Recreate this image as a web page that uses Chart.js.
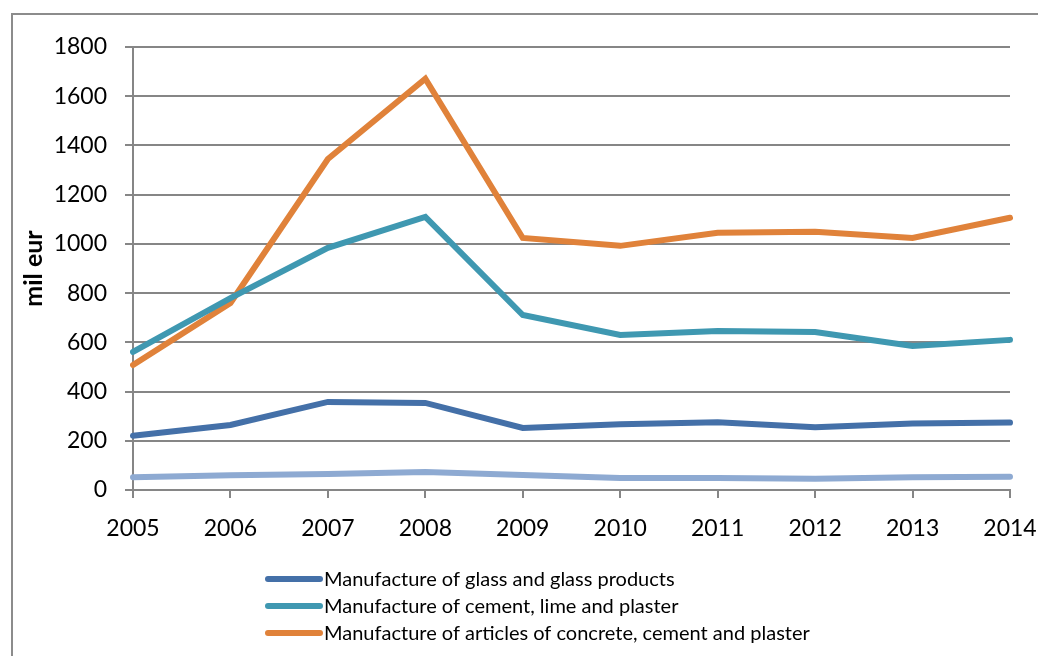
<!DOCTYPE html>
<html>
<head>
<meta charset="utf-8">
<title>Manufacturing output, 2005-2014</title>
<script src="https://cdn.jsdelivr.net/npm/chart.js@4.4.1/dist/chart.umd.min.js"></script>
<style>
  html, body { margin: 0; padding: 0; background: #ffffff; overflow: hidden; }
  #wrap { position: relative; width: 1038px; height: 656px; }
</style>
</head>
<body>
<div id="wrap"><canvas id="chart" width="1038" height="656"></canvas></div>
<script>
// Years on the category axis
const years = ['2005', '2006', '2007', '2008', '2009', '2010', '2011', '2012', '2013', '2014'];

// Values in mil eur
const glass = [220, 264, 358, 354, 252, 267, 275, 255, 270, 274];
const cement = [561, 780, 984, 1110, 711, 630, 646, 642, 585, 610];
const concrete = [508, 760, 1345, 1671, 1024, 992, 1045, 1049, 1024, 1106];
const otherMinerals = [52, 60, 65, 73, 61, 49, 49, 46, 52, 54];

const yTicks = [0, 200, 400, 600, 800, 1000, 1200, 1400, 1600, 1800];

const seriesNames = [
  'Manufacture of glass and glass products',
  'Manufacture of cement, lime and plaster',
  'Manufacture of articles of concrete, cement and plaster',
  'Other non-metallic mineral products'
];
const seriesColors = ['#4470a8', '#3f98b1', '#e0823a', '#8eaad2'];
const seriesValues = [glass, cement, concrete, otherMinerals];

// Number of legend rows that fit inside the chart frame
const legendRows = 3;

const FONT = 'Lato, "Liberation Sans", sans-serif';

// Outer frame of the chart object
const framePlugin = {
  id: 'frame',
  beforeDraw(chart) {
    const ctx = chart.ctx;
    ctx.save();
    ctx.fillStyle = '#ffffff';
    ctx.fillRect(0, 0, chart.width, chart.height);
    ctx.strokeStyle = '#8c8c8c';
    ctx.lineWidth = 2;
    ctx.strokeRect(12, 14, 1100, 700);
    ctx.restore();
  }
};

// Stacked legend below the plot, one entry per row
const stackedLegend = {
  id: 'stackedLegend',
  afterDraw(chart) {
    const ctx = chart.ctx;
    const x0 = 268, lineLen = 52, textX = 324, y0 = 579, rowGap = 27;
    ctx.save();
    ctx.font = '20px ' + FONT;
    ctx.textBaseline = 'middle';
    ctx.textAlign = 'left';
    chart.data.datasets.slice(0, legendRows).forEach((ds, i) => {
      const y = y0 + i * rowGap;
      ctx.strokeStyle = ds.borderColor;
      ctx.lineWidth = 6;
      ctx.lineCap = 'round';
      ctx.beginPath();
      ctx.moveTo(x0, y);
      ctx.lineTo(x0 + lineLen, y);
      ctx.stroke();
      ctx.fillStyle = '#000000';
      ctx.fillText(ds.label, textX, y + 1);
    });
    ctx.restore();
  }
};

const datasets = seriesNames.map((name, i) => ({
  label: name,
  data: seriesValues[i],
  borderColor: seriesColors[i],
  backgroundColor: seriesColors[i],
  borderWidth: 6,
  borderCapStyle: 'round',
  borderJoinStyle: 'miter',
  pointRadius: 0,
  pointHoverRadius: 0,
  tension: 0,
  fill: false
}));

new Chart(document.getElementById('chart'), {
  type: 'line',
  data: { labels: years, datasets: datasets },
  plugins: [framePlugin, stackedLegend],
  options: {
    responsive: false,
    animation: false,
    events: [],
    layout: { padding: { left: 19, top: 47, right: 28, bottom: 110 } },
    plugins: {
      legend: { display: false },
      tooltip: { enabled: false },
      title: { display: false }
    },
    scales: {
      x: {
        type: 'category',
        offset: false,
        afterFit(scale) {
          scale.height = 56;
          scale.paddingLeft = 0;
          scale.paddingRight = 0;
        },
        grid: {
          drawOnChartArea: false,
          drawTicks: true,
          tickLength: 8,
          color: '#868686',
          lineWidth: 2
        },
        border: { display: true, color: '#868686', width: 2 },
        ticks: {
          color: '#000000',
          font: { family: FONT, size: 23 },
          padding: 17,
          maxRotation: 0,
          autoSkip: false
        }
      },
      y: {
        min: 0,
        max: 1800,
        afterFit(scale) { scale.width = 114; },
        afterBuildTicks(scale) { scale.ticks = yTicks.map(v => ({ value: v })); },
        grid: {
          drawOnChartArea: true,
          drawTicks: true,
          tickLength: 8,
          color: '#868686',
          lineWidth: 2
        },
        border: { display: true, color: '#868686', width: 2 },
        ticks: {
          color: '#000000',
          font: { family: FONT, size: 23 },
          padding: 18,
          callback: (v) => String(v)
        },
        title: {
          display: true,
          text: 'mil eur',
          color: '#000000',
          font: { family: FONT, size: 25, weight: 'bold' },
          padding: 0
        }
      }
    }
  }
});
</script>
</body>
</html>
